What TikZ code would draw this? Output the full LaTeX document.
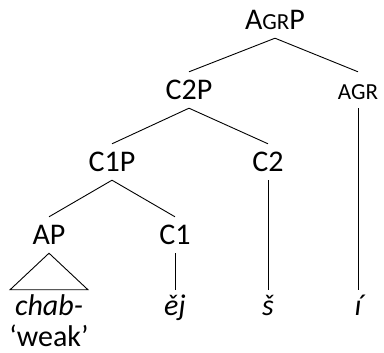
\documentclass[tikz,border=0pt]{standalone}
\usepackage{fontspec}
\setmainfont{Carlito}
\newcommand{\smallcap}[1]{{\fontsize{23}{27}\selectfont #1}}

\begin{document}
\begin{tikzpicture}[x=1pt,y=-1pt,
    cat/.style={font=\fontsize{30}{36}\selectfont, text height=19pt, text depth=0pt, inner ysep=8.5pt},
    word/.style={font=\fontsize{30}{36}\selectfont\itshape, anchor=base, text height=20pt, text depth=0pt, inner ysep=6pt},
    gloss/.style={font=\fontsize{30}{36}\selectfont, anchor=base, text depth=0pt, inner ysep=0pt},
    branch/.style={line width=0.9pt}]
    \useasboundingbox (0,0) rectangle (384,353);
    % phrases and heads
    \node[cat] (agrp) at (275,20) {A\smallcap{GR}P};
    \node[cat] (c2p) at (189,90) {C2P};
    \node[cat] (agr) at (358,90) {\smallcap{AGR}};
    \node[cat] (c1p) at (112,162) {C1P};
    \node[cat] (c2) at (268,162) {C2};
    \node[cat] (ap) at (49,235) {AP};
    \node[cat] (c1) at (175,235) {C1};
    % morphemes
    \node[word] (chab) at (49,316) {chab-};
    \node[gloss] (weak) at (49,347) {‘weak’};
    \node[word] (ej) at (175,316) {ěj};
    \node[word] (sh) at (268,316) {š};
    \node[word] (ii) at (358,316) {í};
    % branches
    \draw[branch] (agrp.south) -- (c2p.north);
    \draw[branch] (agrp.south) -- (agr.north);
    \draw[branch] (c2p.south) -- (c1p.north);
    \draw[branch] (c2p.south) -- (c2.north);
    \draw[branch] (c1p.south) -- (ap.north);
    \draw[branch] (c1p.south) -- (c1.north);
    \draw[branch] (ap.south) -- ([xshift=-39pt]chab.north) -- ([xshift=39pt]chab.north) -- cycle;
    \draw[branch] (c1.south) -- (ej.north);
    \draw[branch] (c2.south) -- (sh.north);
    \draw[branch] (agr.south) -- (ii.north);
\end{tikzpicture}
\end{document}
